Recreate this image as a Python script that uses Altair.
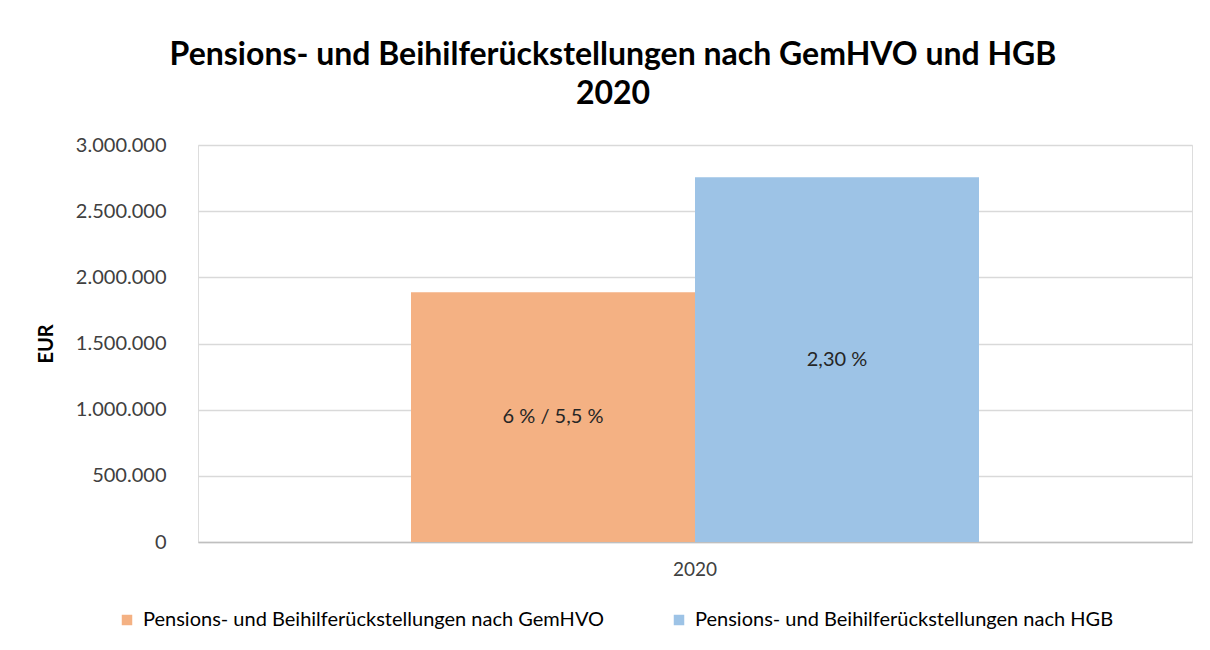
import altair as alt
import pandas as pd

years = ["2020", "2020"]
series = ["Pensions- und Beihilferückstellungen nach GemHVO",
          "Pensions- und Beihilferückstellungen nach HGB"]
values = [1887000, 2756000]
labels = ["6 % / 5,5 %", "2,30 %"]
colors = ["#F4B183", "#9DC3E6"]

df = pd.DataFrame({"year": years, "series": series, "value": values, "label": labels})

FONT = "Lato"

x = alt.X("year:N", title=None,
          scale=alt.Scale(paddingInner=0, paddingOuter=0.375),
          axis=alt.Axis(labelAngle=0, labelFontSize=19, labelColor="#404040",
                        labelPadding=18, ticks=False, domainColor="#bfbfbf",
                        domainWidth=1.5, labelFont=FONT))
xo = alt.XOffset("series:N", sort=series,
                 scale=alt.Scale(paddingInner=0, paddingOuter=0))

bars = alt.Chart(df).mark_bar().encode(
    x=x, xOffset=xo,
    y=alt.Y("value:Q", title="EUR",
            scale=alt.Scale(domain=[0, 3000000], nice=False),
            axis=alt.Axis(values=[0, 500000, 1000000, 1500000, 2000000, 2500000, 3000000],
                          labelExpr="replace(replace(format(datum.value, ','), ',', '.'), ',', '.')",
                          labelFontSize=20, labelColor="#404040", labelPadding=32,
                          ticks=False, domain=False, gridColor="#d9d9d9", gridWidth=1.5,
                          titleFontSize=20, titleFontWeight="bold", titleColor="#000000",
                          titlePadding=19, labelFont=FONT, titleFont=FONT)),
    color=alt.Color("series:N", sort=series,
                    scale=alt.Scale(domain=series, range=colors),
                    legend=alt.Legend(title=None, orient="none", legendX=-81, legendY=465,
                                      direction="horizontal", columns=2, columnPadding=64,
                                      symbolType="square", symbolSize=110,
                                      symbolStrokeWidth=0, labelFontSize=20,
                                      labelColor="#000000", labelLimit=800, labelFont=FONT,
                                      symbolOffset=0, labelOffset=6)),
)

text = alt.Chart(df).transform_calculate(mid="datum.value / 2").mark_text(
    fontSize=20, color="#262626", font=FONT
).encode(
    x=alt.X("year:N"), xOffset=xo,
    y=alt.Y("mid:Q"),
    text="label:N",
)

chart = (bars + text).properties(
    width=994, height=397,
    padding={"left": 190, "top": 137, "right": 10, "bottom": 100},
    autosize=alt.AutoSizeParams(type="none"),
    title=alt.TitleParams(
        ["Pensions- und Beihilferückstellungen nach GemHVO und HGB", "2020"],
        fontSize=32, font=FONT, fontWeight="bold", color="#000000",
        anchor="middle", dx=-82, offset=24, lineHeight=39,
    ),
).configure_view(stroke="#d9d9d9", strokeWidth=1.5).configure(background="white")

chart.save("out.html", embed_options={"renderer": "svg", "actions": False})
